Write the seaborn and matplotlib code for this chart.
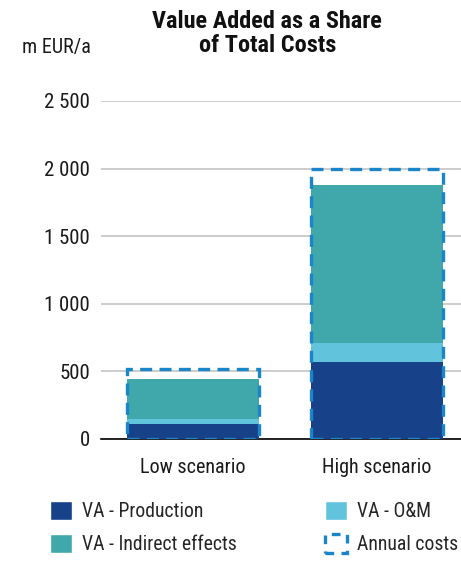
import pandas as pd
import matplotlib.pyplot as plt
import seaborn as sns
from matplotlib.patches import Patch
from matplotlib.ticker import FuncFormatter

sns.set_theme(style="white")
plt.rcParams["font.family"] = ["Liberation Sans Narrow", "Roboto Condensed", "DejaVu Sans Condensed",
                               "Liberation Sans", "DejaVu Sans"]

# data (m EUR/a)
scenarios = ["Low scenario", "High scenario"]
va_production = [110, 570]
va_om = [38, 142]
va_indirect = [297, 1165]
annual_costs = [520, 2000]

c_prod = "#17428a"
c_om = "#62c3dc"
c_ind = "#40a8aa"
c_cost = "#1a86c9"

df = pd.DataFrame({"Scenario": scenarios, "Production": va_production,
                   "OM": va_om, "Indirect": va_indirect, "Costs": annual_costs})
df["bottom_om"] = df["Production"]
df["bottom_ind"] = df["Production"] + df["OM"]

fig = plt.figure(figsize=(4.61, 5.61), dpi=100)
ax = fig.add_axes([0.219, 0.2175, 0.781, 0.6025])

w = 0.72
sns.barplot(x="Scenario", y="Production", data=df, color=c_prod, width=w, saturation=1,
            linewidth=0, ax=ax, zorder=2)
sns.barplot(x="Scenario", y="OM", data=df, color=c_om, width=w, bottom=df["bottom_om"], saturation=1,
            linewidth=0, ax=ax, zorder=2)
sns.barplot(x="Scenario", y="Indirect", data=df, color=c_ind, width=w, bottom=df["bottom_ind"], saturation=1,
            linewidth=0, ax=ax, zorder=2)
sns.barplot(x="Scenario", y="Costs", data=df, fill=False, edgecolor=c_cost, linewidth=2.4,
            linestyle=(0, (3.6, 2.2)), width=w, ax=ax, zorder=3)

ax.set_xlim(-0.5, 1.457)
ax.set_ylim(0, 2500)
ax.set_yticks([0, 500, 1000, 1500, 2000, 2500])
ax.yaxis.set_major_formatter(FuncFormatter(lambda v, p: f"{int(v):,}".replace(",", " ")))
ax.grid(axis="y", color="#c4c4c4", linewidth=1.2, zorder=0)
ax.set_axisbelow(True)
for s in ["top", "right", "left"]:
    ax.spines[s].set_visible(False)
ax.spines["bottom"].set_color("black")
ax.spines["bottom"].set_linewidth(1.2)
ax.spines["bottom"].set_zorder(1)
ax.tick_params(axis="y", length=0, pad=8, labelsize=15, colors="#1a1a1a")
ax.tick_params(axis="x", length=0, pad=14, labelsize=14.5, colors="#1a1a1a")
ax.set_xlabel("")
ax.set_ylabel("")

fig.text(0.58, 0.94, "Value Added as a Share\nof Total Costs", ha="center", va="center",
         fontsize=17.5, fontweight="bold", linespacing=1.05, color="#111111")
fig.text(0.048, 0.916, "m EUR/a", ha="left", va="center", fontsize=14.5, color="#1a1a1a")

handles = [Patch(facecolor=c_prod, label="VA - Production"),
           Patch(facecolor=c_ind, label="VA - Indirect effects"),
           Patch(facecolor=c_om, label="VA - O&M"),
           Patch(facecolor="none", edgecolor=c_cost, linewidth=2.4, linestyle=(0, (2.6, 2.2)),
                 label="Annual costs")]
fig.legend(handles=handles, ncol=2, loc="lower left", bbox_to_anchor=(0.1085, 0.012),
           frameon=False, fontsize=14.2, handlelength=1.1, handleheight=1.1,
           handletextpad=0.5, columnspacing=4.5, labelspacing=0.65,
           borderpad=0, borderaxespad=0)

fig.savefig("out.png", dpi=100)
